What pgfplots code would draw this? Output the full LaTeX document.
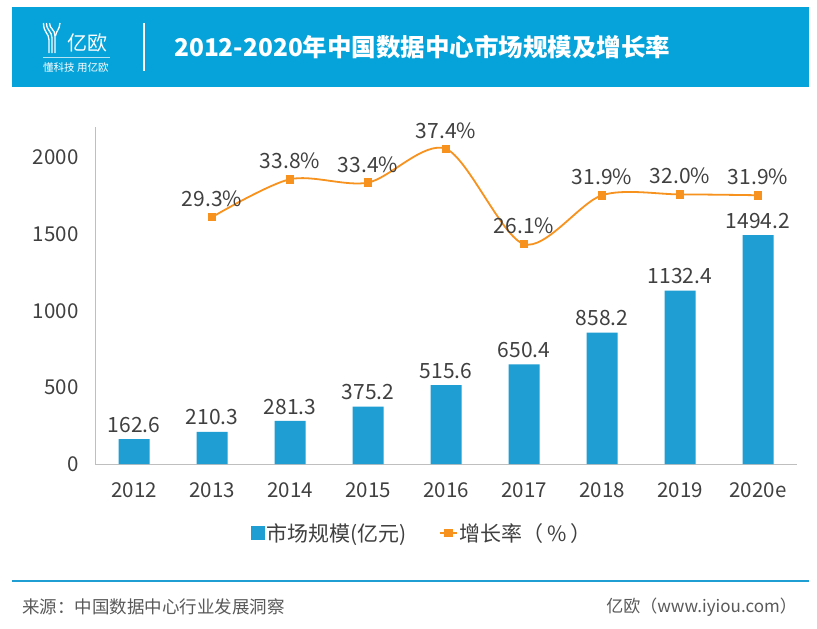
\documentclass[border=0pt]{standalone}
\usepackage{fontspec}
\setmainfont{Noto Sans CJK SC}
\usepackage{pgfplots}
\pgfplotsset{compat=1.18}
\definecolor{hdr}{HTML}{05A3DA}
\definecolor{barc}{HTML}{1F9ED3}
\definecolor{linec}{HTML}{F7921E}
\definecolor{txt}{HTML}{404040}
\definecolor{axc}{HTML}{BFBFBF}
\definecolor{foot}{HTML}{595959}
\begin{document}
\begin{tikzpicture}[x=1pt,y=1pt]
\useasboundingbox (0,0) rectangle (817,-629);
\fill[white] (0,0) rectangle (817,-629);
% header
\fill[hdr] (12,-7) rectangle (809,-87);
\draw[white, line width=1.3pt] (43.5,-23) .. controls (43.5,-33) and (49,-33) .. (49,-40) -- (49,-53);
\draw[white, line width=1.3pt] (46.5,-23) .. controls (46.5,-31) and (52,-31) .. (52,-38) -- (52,-53);
\draw[white, line width=1.3pt] (49.5,-23) .. controls (49.5,-29) and (55,-29) .. (55,-36) -- (55,-53);
\draw[white, line width=1.3pt] (60,-23) .. controls (59.5,-30) and (56,-31) .. (55.5,-36);
\node[anchor=west, inner sep=0, text=white, font=\fontsize{20}{24}\selectfont] at (67,-43) {亿欧};
\draw[white, opacity=0.7, line width=0.6pt] (43,-57.5) -- (110,-57.5);
\node[anchor=west, inner sep=0, text=white, font=\fontsize{10.5}{12}\selectfont] at (43,-67.5) {懂科技 用亿欧};
\draw[white, line width=1.2pt] (144,-23) -- (144,-71);
\node[anchor=west, inner sep=0, text=white, font=\fontsize{24.5}{30}\selectfont\bfseries] at (174,-47) {2012-2020年中国数据中心市场规模及增长率};
% footer
\draw[barc, line width=2.5pt] (12,-581) -- (809,-581);
\node[anchor=west, inner sep=0, text=foot, font=\fontsize{17.5}{20}\selectfont] at (22,-607) {来源：中国数据中心行业发展洞察};
\node[anchor=east, inner sep=0, text=foot, font=\fontsize{17}{20}\selectfont] at (797,-607) {亿欧（www.iyiou.com）};
% bars
\begin{axis}[at={(95pt,-464pt)}, anchor=south west, scale only axis,
  width=702pt, height=337pt,
  xmin=-0.5, xmax=8.5, ymin=0, ymax=2200,
  axis x line*=bottom, axis y line*=left,
  axis line style={axc, line width=1pt, -},
  xtick={0,...,8}, xticklabels={2012,2013,2014,2015,2016,2017,2018,2019,2020e},
  ytick={0,500,1000,1500,2000}, yticklabels={0,500,1000,1500,2000},
  major tick length=0pt,
  tick label style={font=\fontsize{20.5}{24}\selectfont, text=txt},
  yticklabel style={xshift=-13pt},
  xticklabel style={yshift=-15pt},
  ybar, bar width=31pt,
  point meta=explicit symbolic,
  nodes near coords,
  nodes near coords style={font=\fontsize{21}{25}\selectfont, text=txt, yshift=3pt},
  clip=false]
\addplot[fill=barc, draw=none] coordinates {
  (0,162.6) [162.6]
  (1,210.3) [210.3]
  (2,281.3) [281.3]
  (3,375.2) [375.2]
  (4,515.6) [515.6]
  (5,650.4) [650.4]
  (6,858.2) [858.2]
  (7,1132.4) [1132.4]
  (8,1494.2) [1494.2]
};
\end{axis}
% growth line
\begin{axis}[at={(95pt,-464pt)}, anchor=south west, scale only axis,
  width=702pt, height=337pt,
  xmin=-0.5, xmax=8.5, ymin=0, ymax=40,
  hide axis, clip=false,
  point meta=explicit symbolic,
  nodes near coords,
  nodes near coords style={font=\fontsize{21}{25}\selectfont, text=txt, anchor=south, yshift=7pt},
  legend style={at={(0.466,-0.2047)}, anchor=center, draw=none, fill=none,
    font=\fontsize{21}{25}\selectfont, text=txt,
    /tikz/every even column/.append style={column sep=30pt}},
  legend columns=2]
\addlegendimage{legend image code/.code={\fill[barc] (0pt,-6.5pt) rectangle (13pt,6.5pt);}}
\addlegendentry{市场规模(亿元)}
\addplot[linec, line width=1.8pt, smooth, mark=square*, mark size=3.8pt,
  mark options={fill=linec, draw=linec, line width=0pt}] coordinates {
  (1,29.3) [29.3\%]
  (2,33.8) [33.8\%]
  (3,33.4) [33.4\%]
  (4,37.4) [37.4\%]
  (5,26.1) [26.1\%]
  (6,31.9) [31.9\%]
  (7,32.0) [32.0\%]
  (8,31.9) [31.9\%]
};
\addlegendentry{增长率（\,\%\,）}
\end{axis}
\end{tikzpicture}
\end{document}
